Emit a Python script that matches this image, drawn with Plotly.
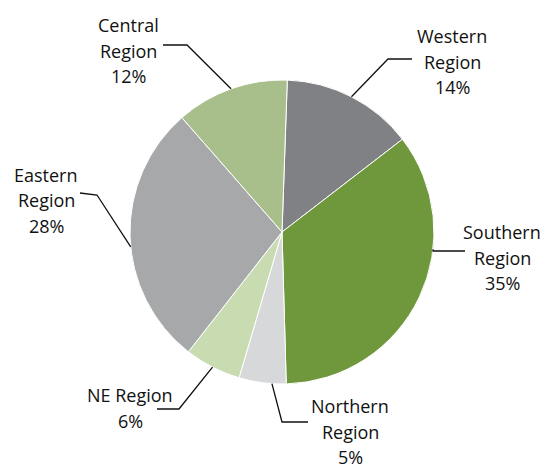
"""Regional share pie chart with elbow leader lines."""

import math
import plotly.graph_objects as go

# ── Data ──────────────────────────────────────────────────────────────────────
REGIONS = ["Western Region", "Southern Region", "Northern Region",
           "NE Region", "Eastern Region", "Central Region"]
SHARES = [14, 35, 5, 6, 28, 12]
COLORS = ["#808184", "#6f983d", "#d7d8da", "#c9dbb0", "#a7a8aa", "#a9bf8b"]

# ── Canvas / pie geometry (pixels) ────────────────────────────────────────────
W, H = 547, 469
CX, CY, R = 282, 232, 152
ROTATION = 2
FONT = "Open Sans"

# label layout: text centre x, first-line y, wrap, leader elbow + end, anchor
# position inside the slice (fraction of the slice's angular span)
LABELS = {
    "Western Region": dict(x=452, y=36, wrap=True, elbow=(388, 59), end=(412, 59), frac=0.5),
    "Southern Region": dict(x=502, y=232, wrap=True, elbow=(433, 251), end=(465, 251), frac=0.35),
    "Northern Region": dict(x=350, y=406, wrap=True, elbow=(282, 422), end=(308, 422), frac=0.3),
    "NE Region": dict(x=130, y=395, wrap=False, elbow=(179, 409), end=(157, 409), frac=0.5),
    "Eastern Region": dict(x=46, y=175, wrap=True, elbow=(97, 195), end=(80, 193), frac=0.46),
    "Central Region": dict(x=128, y=25, wrap=True, elbow=(187, 45), end=(163, 45), frac=0.5),
}
LINE_GAP = 25.5


def px(x, y):
    return x / W, 1 - y / H


fig = go.Figure(go.Pie(
    labels=REGIONS, values=SHARES,
    marker=dict(colors=COLORS, line=dict(color="white", width=1)),
    sort=False, direction="clockwise", rotation=ROTATION,
    textinfo="none", showlegend=False,
    hovertemplate="%{label}: %{percent}<extra></extra>",
    domain=dict(x=[(CX - R) / W, (CX + R) / W], y=[1 - (CY + R) / H, 1 - (CY - R) / H]),
))

total = sum(SHARES)
start = ROTATION
annotations, shapes = [], []
for name, val in zip(REGIONS, SHARES):
    span = val / total * 360
    cfg = LABELS[name]
    ang = math.radians(start + span * cfg["frac"])
    start += span
    sx, sy = CX + R * math.sin(ang), CY - R * math.cos(ang)
    pts = [px(sx, sy), px(*cfg["elbow"]), px(*cfg["end"])]
    path = "M {} {} L {} {} L {} {}".format(*[c for p in pts for c in p])
    shapes.append(dict(type="path", path=path, xref="paper", yref="paper",
                       line=dict(color="#111111", width=1.3)))
    lines = name.split(" ") if cfg["wrap"] else [name]
    lines = lines + [f"{val}%"]
    for i, t in enumerate(lines):
        ax, ay = px(cfg["x"], cfg["y"] + i * LINE_GAP)
        annotations.append(dict(x=ax, y=ay, xref="paper", yref="paper", text=t,
                                showarrow=False, xanchor="center", yanchor="middle",
                                font=dict(family=FONT, size=18, color="#111111")))

fig.update_layout(
    width=W, height=H,
    margin=dict(l=0, r=0, t=0, b=0),
    paper_bgcolor="white", plot_bgcolor="white",
    annotations=annotations, shapes=shapes,
)
fig.write_html("out.html", config={"displayModeBar": False},
               post_script="document.body.style.margin='0';")
